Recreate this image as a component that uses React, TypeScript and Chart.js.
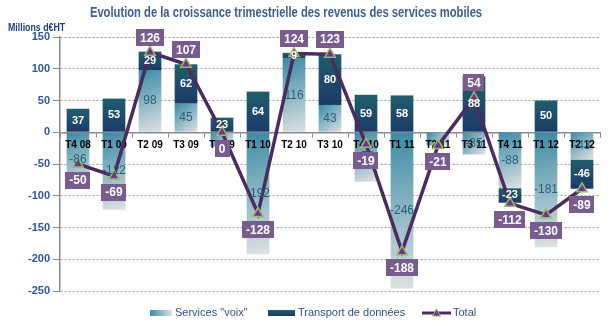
import React, { useEffect, useRef } from 'react';
import { Chart, registerables } from 'chart.js';

Chart.register(...registerables);

const FF = "'Liberation Sans', Arial, sans-serif";

const title = 'Evolution de la croissance trimestrielle des revenus des services mobiles';
const unitLabel = 'Millions d€HT';
const categories = ['T4 08', 'T1 09', 'T2 09', 'T3 09', 'T4 09', 'T1 10', 'T2 10', 'T3 10', 'T4 10', 'T1 11', 'T2 11', 'T3 11', 'T4 11', 'T1 12', 'T2 12'];
const voix = [-86, -122, 98, 45, -23, -192, 116, 43, -78, -246, -21, -35, -88, -181, -43];
const donnees = [37, 53, 29, 62, 23, 64, 9, 80, 59, 58, 0, 88, -23, 50, -46];
const total = [-50, -69, 126, 107, 0, -128, 124, 123, -19, -188, -21, 54, -112, -130, -89];
const seriesNames = ['Services "voix"', 'Transport de données', 'Total'];
const yMin = -250;
const yMax = 150;
const yStep = 50;

const C = {
  voixTop: '#3A8BA6',
  voixBottom: '#DFE1E2',
  donTop: '#205E6E',
  donBottom: '#1B3A67',
  line: '#4A2D5E',
  marker: '#7030A0',
  markerBorder: '#9BBB59',
  box: '#775C8D',
  voixLabel: '#245F7E',
  axisText: '#2F56A0',
  legendText: '#2F5096',
  title: '#3F5E8C',
  unit: '#1F3F7A',
  grid: '#9A9A9A',
  axis: '#8A8A8A',
};

function barBg(ctx: any, kind: 'voix' | 'don') {
  const chart = ctx.chart;
  const xs = chart.scales.x;
  const ys = chart.scales.y;
  if (!chart.chartArea || !xs || !ys || ctx.type !== 'data') return kind === 'voix' ? C.voixTop : C.donTop;
  const i = ctx.dataIndex;
  const xc = xs.getPixelForValue(i);
  let a: number, b: number;
  if (kind === 'voix') {
    a = 0;
    b = voix[i];
  } else {
    const d = donnees[i];
    a = Math.sign(d) === Math.sign(voix[i]) ? voix[i] : 0;
    b = a + d;
  }
  const top = Math.min(ys.getPixelForValue(a), ys.getPixelForValue(b));
  const bottom = Math.max(ys.getPixelForValue(a), ys.getPixelForValue(b));
  const c = chart.ctx;
  if (kind === 'voix') {
    const g = c.createLinearGradient(xc - 11, top, xc + 11, Math.max(bottom, top + 1));
    g.addColorStop(0, C.voixTop);
    g.addColorStop(1, C.voixBottom);
    return g;
  }
  const g = c.createLinearGradient(0, top, 0, Math.max(bottom, top + 1));
  g.addColorStop(0, C.donTop);
  g.addColorStop(1, C.donBottom);
  return g;
}

function drawSqueezed(ctx: any, text: string, x: number, y: number, sx: number) {
  ctx.save();
  ctx.translate(x, y);
  ctx.scale(sx, 1);
  ctx.fillText(text, 0, 0);
  ctx.restore();
}

const customPlugin = {
  id: 'customDraw',
  beforeDatasetDraw(chart: any, args: any) {
    if (args.index !== 0) return;
    // category labels sit on the zero line, under the Total line
    const { ctx, scales } = chart;
    const x = scales.x;
    const y0 = scales.y.getPixelForValue(0);
    ctx.save();
    ctx.textAlign = 'center';
    ctx.textBaseline = 'middle';
    ctx.font = `bold 10px ${FF}`;
    ctx.fillStyle = '#000000';
    categories.forEach((lab, i) => {
      ctx.fillText(lab, x.getPixelForValue(i), y0 + 13);
    });
    ctx.restore();
  },
  afterDatasetsDraw(chart: any) {
    const { ctx, scales } = chart;
    const x = scales.x;
    const y = scales.y;
    ctx.save();
    ctx.textAlign = 'center';
    ctx.textBaseline = 'middle';
    ctx.font = `12px ${FF}`;
    ctx.fillStyle = C.voixLabel;
    voix.forEach((v, i) => {
      if (Math.abs(v) < 30) return;
      ctx.fillText(String(v), x.getPixelForValue(i), y.getPixelForValue(v / 2));
    });
    ctx.font = `bold 11px ${FF}`;
    ctx.fillStyle = '#FFFFFF';
    donnees.forEach((d, i) => {
      if (!d) return;
      const base = Math.sign(d) === Math.sign(voix[i]) ? voix[i] : 0;
      ctx.fillText(String(d), x.getPixelForValue(i), y.getPixelForValue(base + d / 2));
    });
    ctx.font = `bold 12px ${FF}`;
    total.forEach((t, i) => {
      const cx = x.getPixelForValue(i);
      const py = y.getPixelForValue(t);
      const cy = t > 0 ? py - 15 : py + 16;
      const txt = String(t);
      const w = Math.max(ctx.measureText(txt).width + 8, 15);
      const h = 17;
      ctx.fillStyle = C.box;
      ctx.fillRect(Math.round(cx - w / 2), Math.round(cy - h / 2), Math.round(w), h);
      ctx.fillStyle = '#FFFFFF';
      ctx.fillText(txt, cx, cy + 1);
    });
    ctx.restore();
  },
  afterDraw(chart: any) {
    const { ctx } = chart;
    ctx.save();
    ctx.textBaseline = 'middle';
    ctx.textAlign = 'center';
    ctx.font = `bold 14px ${FF}`;
    ctx.fillStyle = C.title;
    drawSqueezed(ctx, title, 286, 13, 0.8);
    ctx.textAlign = 'left';
    ctx.font = `bold 10px ${FF}`;
    ctx.fillStyle = C.unit;
    drawSqueezed(ctx, unitLabel, 8, 28, 0.88);
    // legend
    const ly = 313;
    ctx.font = `11px ${FF}`;
    const g = ctx.createLinearGradient(150, 0, 172, 0);
    g.addColorStop(0, C.voixTop);
    g.addColorStop(1, C.voixBottom);
    ctx.fillStyle = g;
    ctx.fillRect(150, 310, 22, 6);
    ctx.fillStyle = C.legendText;
    ctx.fillText(seriesNames[0], 175, ly);
    const g2 = ctx.createLinearGradient(0, 310, 0, 316);
    g2.addColorStop(0, C.donTop);
    g2.addColorStop(1, C.donBottom);
    ctx.fillStyle = g2;
    ctx.fillRect(268, 310, 27, 6);
    ctx.fillStyle = C.legendText;
    ctx.fillText(seriesNames[1], 298, ly);
    ctx.strokeStyle = C.line;
    ctx.lineWidth = 3;
    ctx.beginPath();
    ctx.moveTo(422, ly);
    ctx.lineTo(451, ly);
    ctx.stroke();
    ctx.beginPath();
    ctx.moveTo(436.5, ly - 4);
    ctx.lineTo(440.5, ly + 3);
    ctx.lineTo(432.5, ly + 3);
    ctx.closePath();
    ctx.fillStyle = C.marker;
    ctx.fill();
    ctx.lineWidth = 1;
    ctx.strokeStyle = C.markerBorder;
    ctx.stroke();
    ctx.fillStyle = C.legendText;
    ctx.fillText(seriesNames[2], 453, ly);
    ctx.restore();
  },
};

export default function App() {
  const ref = useRef<HTMLCanvasElement | null>(null);
  useEffect(() => {
    document.body.style.margin = '0';
    const canvas = ref.current;
    if (!canvas) return;
    const chart = new Chart(canvas, {
      type: 'bar',
      data: {
        labels: categories,
        datasets: [
          {
            type: 'line',
            label: seriesNames[2],
            data: total,
            order: 0,
            stack: 'total',
            borderColor: C.line,
            borderWidth: 3.5,
            pointStyle: 'triangle',
            pointRadius: 6,
            pointBackgroundColor: C.marker,
            pointBorderColor: C.markerBorder,
            pointBorderWidth: 1.5,
            tension: 0,
          } as any,
          {
            type: 'bar',
            label: seriesNames[0],
            data: voix,
            order: 2,
            stack: 'rev',
            backgroundColor: (c: any) => barBg(c, 'voix'),
            borderWidth: 0,
            categoryPercentage: 1,
            barPercentage: 0.63,
          },
          {
            type: 'bar',
            label: seriesNames[1],
            data: donnees,
            order: 3,
            stack: 'rev',
            backgroundColor: (c: any) => barBg(c, 'don'),
            borderWidth: 0,
            categoryPercentage: 1,
            barPercentage: 0.63,
          },
        ],
      },
      options: {
        animation: false,
        responsive: true,
        maintainAspectRatio: false,
        layout: { padding: { top: 37, right: 9, bottom: 32, left: 0 } },
        plugins: {
          legend: { display: false },
          title: { display: false },
          tooltip: { enabled: false },
        },
        scales: {
          x: {
            type: 'category',
            stacked: true,
            position: { y: 0 } as any,
            offset: true,
            grid: {
              offset: true,
              drawOnChartArea: false,
              drawTicks: true,
              tickLength: 4,
              tickColor: C.axis,
              tickWidth: 1,
            },
            border: { display: true, color: C.axis, width: 1.5 },
            ticks: {
              display: false,
              autoSkip: false,
              maxRotation: 0,
            },
          },
          y: {
            type: 'linear',
            stacked: true,
            min: yMin,
            max: yMax,
            afterFit: (s: any) => {
              s.width = 60;
            },
            ticks: {
              stepSize: yStep,
              color: C.axisText,
              font: { family: FF, size: 11, weight: 'bold' },
              padding: 3,
            },
            grid: {
              color: C.grid,
              lineWidth: 1,
              tickLength: 7,
              tickColor: C.axis,
              drawTicks: true,
            },
            border: { display: true, color: C.axis, width: 1.5, dash: [2, 2] },
          },
        },
      },
      plugins: [customPlugin],
    });
    return () => chart.destroy();
  }, []);
  return (
    <div style={{ width: 609, height: 323, position: 'relative' }}>
      <canvas ref={ref} />
    </div>
  );
}
